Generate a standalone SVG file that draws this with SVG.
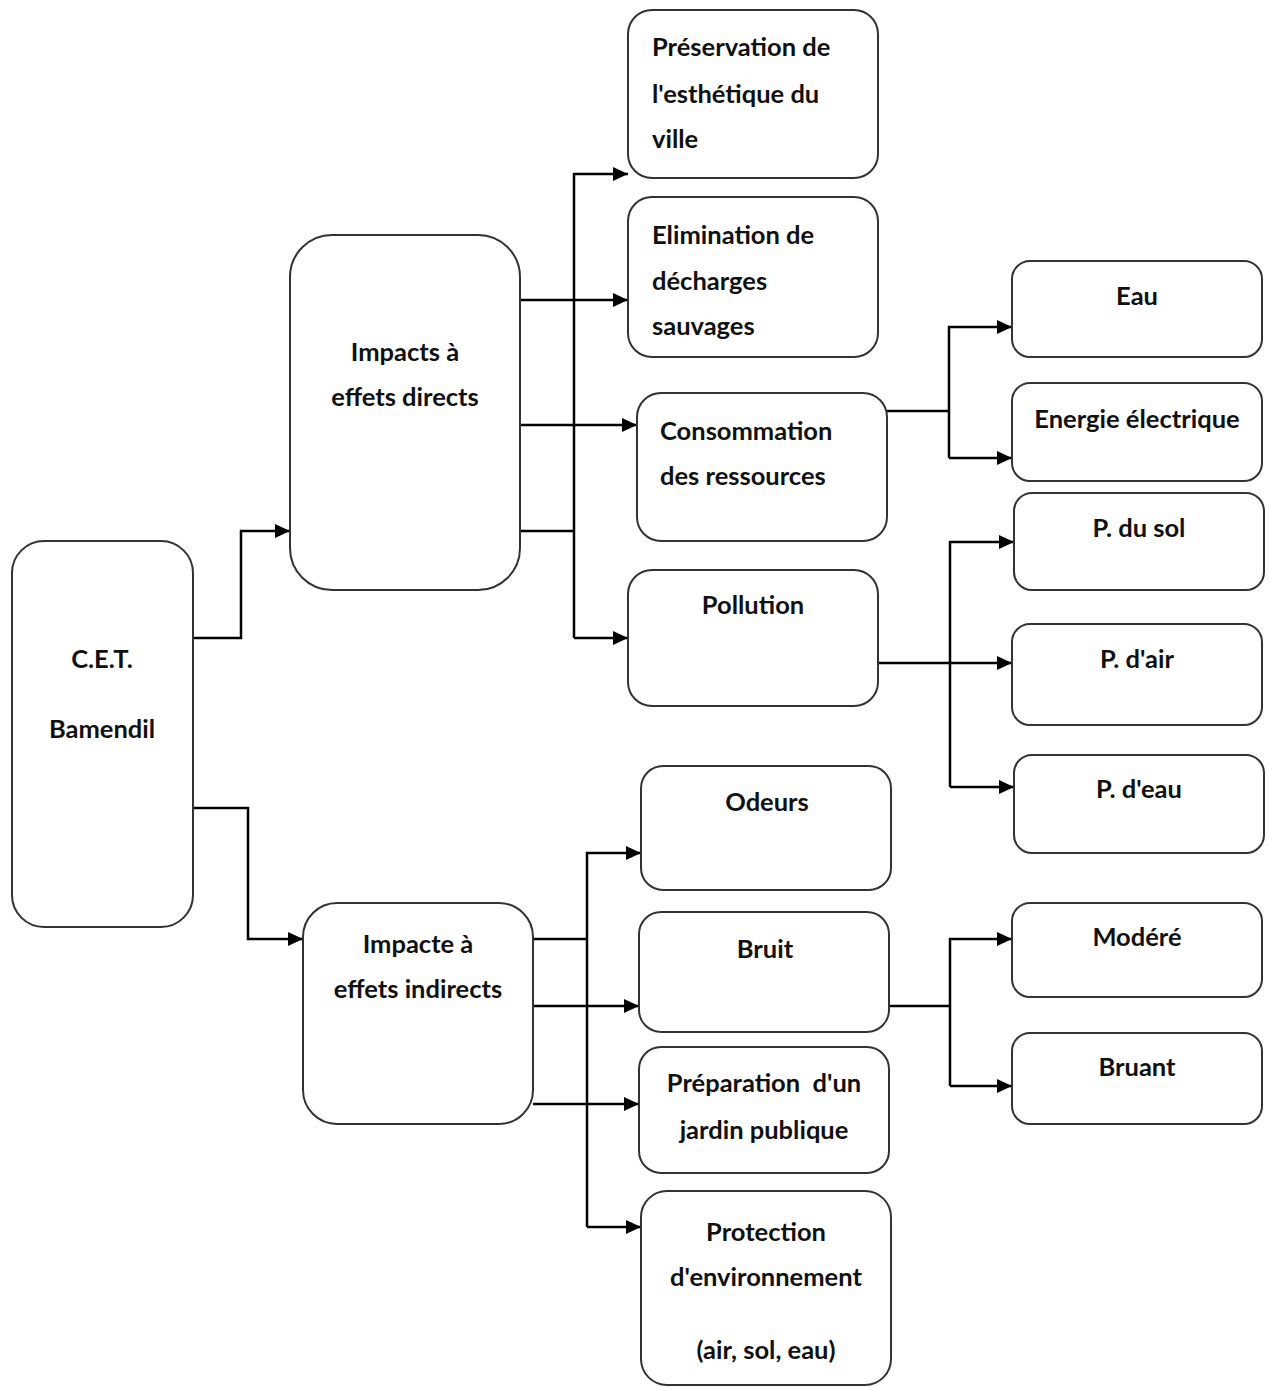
<svg xmlns="http://www.w3.org/2000/svg" width="1269" height="1387" viewBox="0 0 1269 1387">
<style>
.box{fill:#fff;stroke:#333;stroke-width:2}
.t{font-family:Lato,"Open Sans","Liberation Sans",sans-serif;font-weight:bold;font-size:25.5px;fill:#111;white-space:pre}
.c{text-anchor:middle}
.ln{fill:none;stroke:#000;stroke-width:2.5}
.ar{fill:none;stroke:#000;stroke-width:2.5;marker-end:url(#ah)}
</style>
<defs>
<marker id="ah" markerWidth="15" markerHeight="14" refX="15" refY="7" orient="auto" markerUnits="userSpaceOnUse">
<path d="M0,0 L15,7 L0,14 Z" fill="#000"/>
</marker>
</defs>
<rect width="1269" height="1387" fill="#fff"/>
<g id="connectors">
<path class="ar" d="M193,638 H241 V531 H290"/>
<path class="ar" d="M193,808 H248 V939 H303"/>
<path class="ln" d="M520,531 H574"/>
<path class="ar" d="M574,638 V174 H628"/>
<path class="ar" d="M574,638 H628"/>
<path class="ar" d="M520,300 H628"/>
<path class="ar" d="M520,425 H637"/>
<path class="ln" d="M887,411 H949"/>
<path class="ar" d="M949,458 V327 H1012"/>
<path class="ar" d="M949,458 H1012"/>
<path class="ar" d="M878,663 H1012"/>
<path class="ar" d="M950,787 V542 H1014"/>
<path class="ar" d="M950,787 H1014"/>
<path class="ln" d="M533,939 H587"/>
<path class="ar" d="M587,1227 V853 H641"/>
<path class="ar" d="M587,1227 H641"/>
<path class="ar" d="M533,1006 H639"/>
<path class="ar" d="M533,1104 H639"/>
<path class="ln" d="M889,1006 H950"/>
<path class="ar" d="M950,1086 V939 H1012"/>
<path class="ar" d="M950,1086 H1012"/>
</g>
<g id="cet"><rect class="box" x="12" y="541" width="181" height="386" rx="32"/>
<text class="t c" x="102" y="668">C.E.T.</text><text class="t c" x="102" y="738">Bamendil</text></g>
<g id="directs"><rect class="box" x="290" y="235" width="230" height="355" rx="42"/>
<text class="t c" x="405" y="361">Impacts à</text><text class="t c" x="405" y="406">effets directs</text></g>
<g id="preservation"><rect class="box" x="628" y="10" width="250" height="168" rx="24"/>
<text class="t" x="652" y="56">Préservation de</text><text class="t" x="652" y="103">l'esthétique du</text><text class="t" x="652" y="148">ville</text></g>
<g id="elimination"><rect class="box" x="628" y="197" width="250" height="160" rx="24"/>
<text class="t" x="652" y="244">Elimination de</text><text class="t" x="652" y="290">décharges</text><text class="t" x="652" y="335">sauvages</text></g>
<g id="consommation"><rect class="box" x="637" y="393" width="250" height="148" rx="24"/>
<text class="t" x="660" y="440">Consommation</text><text class="t" x="660" y="485">des ressources</text></g>
<g id="pollution"><rect class="box" x="628" y="570" width="250" height="136" rx="24"/>
<text class="t c" x="753" y="614">Pollution</text></g>
<g id="eau"><rect class="box" x="1012" y="261" width="250" height="96" rx="18"/>
<text class="t c" x="1137" y="305">Eau</text></g>
<g id="energie"><rect class="box" x="1012" y="383" width="250" height="98" rx="18"/>
<text class="t c" x="1137" y="428">Energie électrique</text></g>
<g id="psol"><rect class="box" x="1014" y="493" width="250" height="97" rx="18"/>
<text class="t c" x="1139" y="537">P. du sol</text></g>
<g id="pair"><rect class="box" x="1012" y="624" width="250" height="101" rx="18"/>
<text class="t c" x="1137" y="668">P. d'air</text></g>
<g id="peau"><rect class="box" x="1014" y="755" width="250" height="98" rx="18"/>
<text class="t c" x="1139" y="798">P. d'eau</text></g>
<g id="indirects"><rect class="box" x="303" y="903" width="230" height="221" rx="34"/>
<text class="t c" x="418" y="953">Impacte à</text><text class="t c" x="418" y="998">effets indirects</text></g>
<g id="odeurs"><rect class="box" x="641" y="766" width="250" height="124" rx="22"/>
<text class="t c" x="767" y="811">Odeurs</text></g>
<g id="bruit"><rect class="box" x="639" y="912" width="250" height="120" rx="22"/>
<text class="t c" x="765" y="958">Bruit</text></g>
<g id="jardin"><rect class="box" x="639" y="1047" width="250" height="126" rx="22"/>
<text class="t c" x="764" y="1092">Préparation  d'un</text><text class="t c" x="764" y="1139">jardin publique</text></g>
<g id="protection"><rect class="box" x="641" y="1191" width="250" height="194" rx="26"/>
<text class="t c" x="766" y="1241">Protection</text><text class="t c" x="766" y="1286">d'environnement</text><text class="t c" x="766" y="1359">(air, sol, eau)</text></g>
<g id="modere"><rect class="box" x="1012" y="903" width="250" height="94" rx="18"/>
<text class="t c" x="1137" y="946">Modéré</text></g>
<g id="bruant"><rect class="box" x="1012" y="1033" width="250" height="91" rx="18"/>
<text class="t c" x="1137" y="1076">Bruant</text></g>
</svg>
